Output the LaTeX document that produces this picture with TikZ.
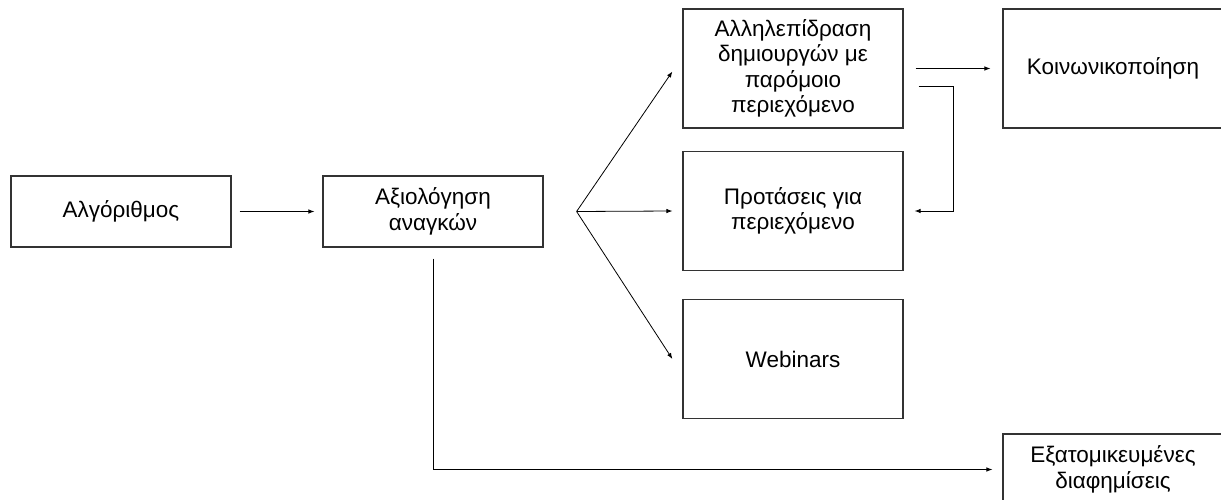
\documentclass[tikz,border=0pt]{standalone}
\usepackage{fontspec}
\setmainfont{Liberation Sans}
\usepackage{xcolor}
\usetikzlibrary{arrows.meta}

\begin{document}
\begin{tikzpicture}[x=1pt, y=-1pt,
     box/.style={rectangle, draw=black!80, line width=1.2pt, inner sep=0pt, align=center,
                 minimum width=220pt, font=\fontsize{22.5}{25.5}\selectfont},
     low/.style={box, minimum height=71pt},
     high/.style={box, minimum height=119pt},
     arr/.style={->, line width=0.8pt, >={Latex[length=6pt,width=4.5pt]}}]
     \useasboundingbox (0,0) rectangle (1221,500);

     \node[low] (A) at (121, 211.5) {Αλγόριθμος};
     \node[low] (B) at (433, 211.5) {Αξιολόγηση\\αναγκών};
     \node[high] (C) at (793, 68.5) {Αλληλεπίδραση\\δημιουργών με\\παρόμοιο\\περιεχόμενο};
     \node[high] (D) at (793, 211) {Προτάσεις για\\περιεχόμενο};
     \node[high] (E) at (793, 359) {Webinars};
     \node[high] (F) at (1113, 68.5) {Κοινωνικοποίηση};
     \node[low] (G) at (1113, 469.5) {Εξατομικευμένες\\διαφημίσεις};
     \coordinate (fan) at ([xshift=33pt]B.east);

     \draw[arr, shorten <=8pt, shorten >=8pt] (A) -- (B);
     \draw[arr] (fan) -- ([xshift=-10pt, yshift=-3pt]C.west);
     \draw[arr] (fan) -- ([xshift=-10pt]D.west);
     \draw[arr] (fan) -- ([xshift=-10pt]E.west);
     \draw[arr, shorten <=12pt, shorten >=12pt] (C) -- (F);
     \draw[arr] ([xshift=15pt, yshift=-17.5pt]C.east) -| ([xshift=50pt]D.east) -- ([xshift=11pt]D.east);
     \draw[arr] ([yshift=-11pt]B.south) |- ([xshift=-10pt]G.west);
     \end{tikzpicture}
\end{document}
